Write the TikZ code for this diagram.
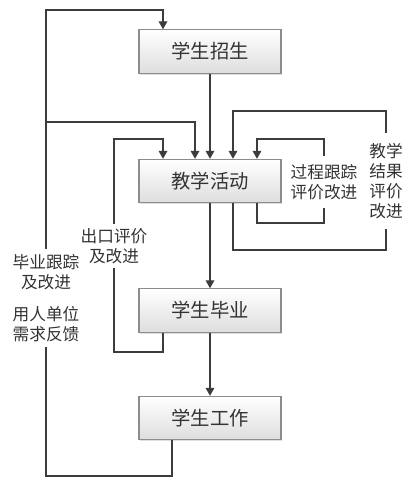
\documentclass[tikz,border=0pt]{standalone}
\usepackage{fontspec}
\setmainfont{Noto Sans CJK SC}
\usetikzlibrary{arrows.meta,positioning,shadows}
\definecolor{linegray}{HTML}{3C3C3C}
\definecolor{boxedge}{HTML}{8C8C8C}
\definecolor{textgray}{HTML}{333333}

\begin{document}
\begin{tikzpicture}[x=0.75pt,y=-0.75pt,
  stage/.style={draw=boxedge,line width=0.8pt,top color=white,bottom color=black!13,
    minimum width=106.5pt,minimum height=32.5pt,inner sep=0pt,
    font=\fontsize{14.5pt}{17pt}\selectfont,text=textgray,
    drop shadow={shadow xshift=1pt,shadow yshift=-1pt,opacity=0.25}},
  note/.style={fill=white,align=center,inner sep=1pt,text=textgray,
    font=\fontsize{12.5pt}{15pt}\selectfont},
  flow/.style={draw=linegray,line width=1pt,-{Triangle[length=6pt,width=6.5pt]}}]
  \useasboundingbox (0,0) rectangle (410,482);
  % 流程
  \node[stage] (zs) at (210,51.5) {学生招生};
  \node[stage] (hd) at (210,181) {教学活动};
  \node[stage] (by) at (210,310.5) {学生毕业};
  \node[stage] (gz) at (210,418) {学生工作};
  \draw[flow] (zs) -- (hd);
  \draw[flow] (hd) -- (by);
  \draw[flow] (by) -- (gz);
  % 左侧反馈
  \coordinate (w0) at (172,476);
  \coordinate (w1) at (46,10);
  \coordinate (w2) at (163,10);
  \coordinate (w3) at (46,122);
  \coordinate (w4) at (195,122);
  \draw[flow] (gz.south -| w0) -- (w0) -| (w1) -- (w2) -- (zs.north -| w2);
  \draw[flow] (w3) -- (w4) -- (hd.north -| w4);
  \node[note,inner ysep=4pt] (gd) at (46,298) {毕业跟踪\\及改进\\[8.5pt]用人单位\\需求反馈};
  % 出口评价
  \coordinate (m0) at (163,352);
  \coordinate (m1) at (114,139);
  \coordinate (m2) at (163,139);
  \draw[flow] (by.south -| m0) -- (m0) -| (m1) -- (m2) -- (hd.north -| m2);
  \node[note,inner ysep=3pt] (ck) at (114,246) {出口评价\\及改进};
  % 过程跟踪
  \coordinate (p0) at (257,223);
  \coordinate (p1) at (324,139);
  \draw[flow] (hd.south -| p0) -- (p0) -| (p1) -| (hd.north -| p0);
  \node[note,inner ysep=6pt] (gc) at (324,182) {过程跟踪\\评价改进};
  % 结果评价
  \coordinate (q0) at (233,250);
  \coordinate (q1) at (386,111);
  \draw[flow] (hd.south -| q0) -- (q0) -| (q1) -| (hd.north -| q0);
  \node[note,inner ysep=8pt] (jg) at (386,181) {教学\\结果\\评价\\改进};
\end{tikzpicture}
\end{document}
